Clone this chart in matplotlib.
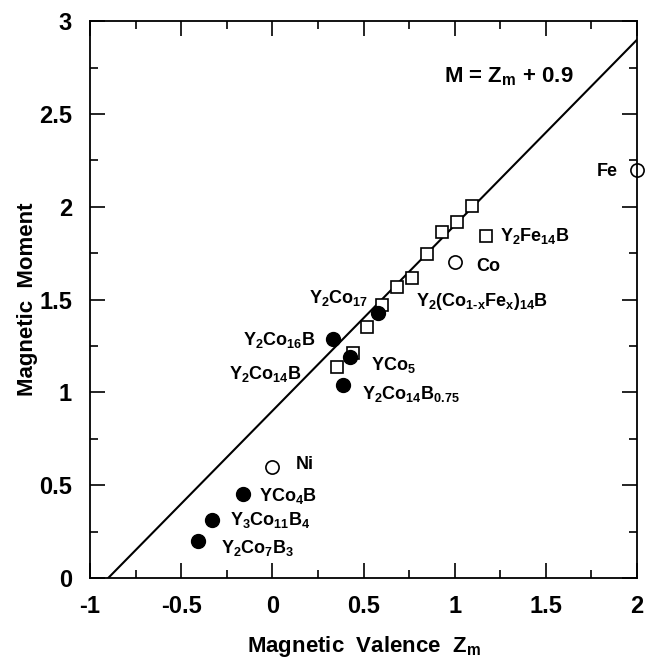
import matplotlib
matplotlib.use("Agg")
import matplotlib.pyplot as plt
import numpy as np

plt.rcParams['font.family'] = ['Liberation Sans', 'DejaVu Sans']
plt.rcParams['font.weight'] = 'bold'
plt.rcParams['mathtext.fontset'] = 'custom'
plt.rcParams['mathtext.rm'] = 'Liberation Sans:bold'
plt.rcParams['mathtext.bf'] = 'Liberation Sans:bold'
plt.rcParams['mathtext.it'] = 'Liberation Sans:bold'
plt.rcParams['mathtext.default'] = 'bf'

# open circles: pure metals
metal_x = [2.0, 1.0, 0.0]
metal_y = [2.2, 1.70, 0.60]

# filled circles: Y-Co(-B) compounds
comp_x = [-0.41, -0.33, -0.163, 0.33, 0.425, 0.387, 0.58]
comp_y = [0.20, 0.31, 0.45, 1.29, 1.19, 1.04, 1.43]

# open squares: Y2(Co1-xFex)14B series
sq_x = [0.354, 0.442, 0.519, 0.602, 0.684, 0.767, 0.849, 0.932, 1.014, 1.097, 1.174]
sq_y = [1.136, 1.212, 1.352, 1.470, 1.567, 1.616, 1.745, 1.863, 1.917, 2.003, 1.842]

labels = [
    ('Fe', 1.78, 2.19),
    (r'Y$_2$Fe$_{14}$B', 1.25, 1.84),
    ('Co', 1.12, 1.68),
    (r'Y$_2$Co$_{17}$', 0.20, 1.51),
    (r'Y$_2$(Co$_{1\text{-}x}$Fe$_x$)$_{14}$B', 0.79, 1.49),
    (r'Y$_2$Co$_{16}$B', -0.16, 1.28),
    (r'Y$_2$Co$_{14}$B', -0.24, 1.10),
    (r'YCo$_5$', 0.54, 1.15),
    (r'Y$_2$Co$_{14}$B$_{0.75}$', 0.49, 0.99),
    ('Ni', 0.13, 0.61),
    (r'YCo$_4$B', -0.075, 0.44),
    (r'Y$_3$Co$_{11}$B$_4$', -0.23, 0.31),
    (r'Y$_2$Co$_7$B$_3$', -0.28, 0.16),
]

fig = plt.figure(figsize=(6.48, 6.62), dpi=100)
ax = fig.add_axes([0.139, 0.127, 0.844, 0.841])

zl = np.array([-0.9, 2.0])
ax.plot(zl, zl + 0.9, color='black', linewidth=1.5)

ax.plot(sq_x, sq_y, 's', markersize=9, markerfacecolor='white',
        markeredgecolor='black', markeredgewidth=1.2, linestyle='none')
ax.plot(metal_x, metal_y, 'o', markersize=9.5, markerfacecolor='white',
        markeredgecolor='black', markeredgewidth=1.2, linestyle='none', clip_on=False)
ax.plot(comp_x, comp_y, 'o', markersize=10, color='black', linestyle='none')

for txt, x, y in labels:
    ax.text(x, y, txt, fontsize=13, fontweight='bold', va='center', ha='left')

ax.text(0.94, 2.70, r'M = Z$_{\mathrm{m}}$ + 0.9', fontsize=16, fontweight='bold',
        va='center', ha='left')

ax.set_xlim(-1, 2)
ax.set_ylim(0, 3)
ax.set_xticks([-1, -0.5, 0, 0.5, 1, 1.5, 2])
ax.set_xticklabels(['-1', '-0.5', '0', '0.5', '1', '1.5', '2'])
ax.set_yticks([0, 0.5, 1, 1.5, 2, 2.5, 3])
ax.set_yticklabels(['0', '0.5', '1', '1.5', '2', '2.5', '3'])
ax.set_xticks(np.arange(-1, 2.01, 0.25), minor=True)
ax.set_yticks(np.arange(0, 3.01, 0.25), minor=True)
ax.tick_params(which='both', direction='in', top=True, right=True, width=1.2)
ax.tick_params(which='major', length=11, labelsize=17)
ax.tick_params(axis='x', which='major', pad=12)
ax.tick_params(axis='y', which='major', pad=13)
ax.tick_params(which='minor', length=6)
for s in ax.spines.values():
    s.set_linewidth(1.3)

ax.set_xlabel(r'Magnetic  Valence  Z$_{\mathrm{m}}$', fontsize=16, fontweight='bold', labelpad=12)
ax.set_ylabel('Magnetic  Moment', fontsize=16, fontweight='bold', labelpad=1)

fig.savefig('out.png', dpi=100)
